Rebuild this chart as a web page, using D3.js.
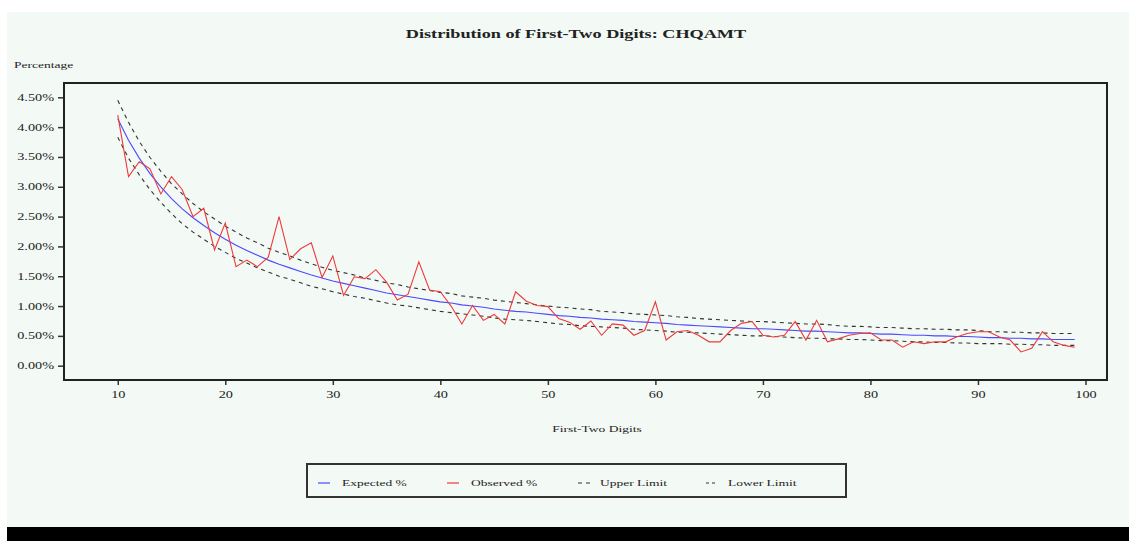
<!DOCTYPE html>
<html>
<head>
<meta charset="utf-8">
<script src="https://cdn.jsdelivr.net/npm/d3@7"></script>
<style>
  body { margin: 0; background: #ffffff; }
  svg { display: block; }
  text { font-family: "Liberation Serif", "DejaVu Serif", serif; fill: #222; }
</style>
</head>
<body>
<script>
// first-two digits 10..99
let digits = d3.range(10, 100)

// expected % (Benford)
let expected = [4.14, 3.78, 3.48, 3.22, 3.00, 2.80, 2.63, 2.48, 2.35, 2.23,
  2.12, 2.02, 1.93, 1.85, 1.77, 1.70, 1.64, 1.58, 1.52, 1.47,
  1.42, 1.38, 1.34, 1.30, 1.26, 1.22, 1.19, 1.16, 1.13, 1.10,
  1.07, 1.05, 1.02, 1.00, 0.98, 0.95, 0.93, 0.91, 0.90, 0.88,
  0.86, 0.84, 0.83, 0.81, 0.80, 0.78, 0.77, 0.76, 0.74, 0.73,
  0.72, 0.71, 0.69, 0.68, 0.67, 0.66, 0.65, 0.64, 0.63, 0.62,
  0.62, 0.61, 0.60, 0.59, 0.58, 0.58, 0.57, 0.56, 0.55, 0.55,
  0.54, 0.53, 0.53, 0.52, 0.51, 0.51, 0.50, 0.50, 0.49, 0.49,
  0.48, 0.47, 0.47, 0.46, 0.46, 0.45, 0.45, 0.44, 0.44, 0.44]

// observed %
let observed = [4.20, 3.17, 3.42, 3.30, 2.88, 3.17, 2.95, 2.50, 2.64, 1.94,
  2.39, 1.66, 1.77, 1.66, 1.82, 2.50, 1.78, 1.96, 2.06, 1.48,
  1.84, 1.18, 1.49, 1.46, 1.61, 1.40, 1.10, 1.20, 1.74, 1.27,
  1.24, 1.00, 0.70, 1.01, 0.76, 0.86, 0.70, 1.24, 1.08, 1.01,
  0.99, 0.79, 0.73, 0.61, 0.75, 0.51, 0.70, 0.68, 0.51, 0.59,
  1.07, 0.43, 0.57, 0.59, 0.51, 0.40, 0.40, 0.59, 0.71, 0.74,
  0.51, 0.48, 0.51, 0.74, 0.43, 0.76, 0.40, 0.45, 0.51, 0.54,
  0.55, 0.43, 0.43, 0.31, 0.40, 0.37, 0.40, 0.40, 0.48, 0.54,
  0.57, 0.57, 0.48, 0.43, 0.23, 0.29, 0.57, 0.40, 0.34, 0.31]

let upper = [4.45, 4.08, 3.76, 3.49, 3.26, 3.05, 2.88, 2.72, 2.58, 2.46,
  2.34, 2.24, 2.14, 2.06, 1.97, 1.90, 1.84, 1.77, 1.71, 1.65,
  1.60, 1.56, 1.52, 1.47, 1.43, 1.39, 1.36, 1.32, 1.29, 1.26,
  1.23, 1.21, 1.17, 1.15, 1.13, 1.10, 1.08, 1.06, 1.04, 1.02,
  1.00, 0.98, 0.97, 0.95, 0.94, 0.91, 0.90, 0.89, 0.87, 0.86,
  0.85, 0.84, 0.82, 0.81, 0.79, 0.78, 0.77, 0.76, 0.75, 0.74,
  0.74, 0.73, 0.72, 0.71, 0.70, 0.70, 0.69, 0.67, 0.66, 0.66,
  0.65, 0.64, 0.64, 0.63, 0.62, 0.62, 0.61, 0.61, 0.60, 0.60,
  0.59, 0.57, 0.57, 0.56, 0.56, 0.55, 0.55, 0.54, 0.54, 0.54]

let lower = [3.83, 3.48, 3.20, 2.95, 2.74, 2.55, 2.38, 2.24, 2.12, 2.00,
  1.90, 1.80, 1.72, 1.64, 1.57, 1.50, 1.45, 1.39, 1.33, 1.29,
  1.24, 1.20, 1.16, 1.13, 1.09, 1.05, 1.02, 1.00, 0.97, 0.94,
  0.91, 0.89, 0.87, 0.85, 0.83, 0.80, 0.78, 0.77, 0.76, 0.74,
  0.72, 0.70, 0.69, 0.67, 0.66, 0.65, 0.64, 0.63, 0.61, 0.60,
  0.59, 0.58, 0.56, 0.56, 0.55, 0.54, 0.53, 0.52, 0.51, 0.50,
  0.50, 0.49, 0.48, 0.47, 0.46, 0.46, 0.45, 0.45, 0.44, 0.44,
  0.43, 0.42, 0.42, 0.41, 0.40, 0.40, 0.39, 0.39, 0.38, 0.38,
  0.37, 0.37, 0.37, 0.36, 0.36, 0.35, 0.35, 0.34, 0.34, 0.34]

let xTicks = [10, 20, 30, 40, 50, 60, 70, 80, 90, 100]
let yTicks = [0, 0.5, 1, 1.5, 2, 2.5, 3, 3.5, 4, 4.5]

let legendNames = ["Expected %", "Observed %", "Upper Limit", "Lower Limit"]

let w = 1129
let h = 541
let bg = "#f3f9f5"

let svg = d3.select("body").append("svg")
  .attr("width", w)
  .attr("height", h)

// background panel (white strip left/top, black bar at the bottom)
svg.append("rect").attr("x", 7).attr("y", 12).attr("width", w - 7).attr("height", 515).attr("fill", bg)
svg.append("rect").attr("x", 7).attr("y", 527).attr("width", w - 7).attr("height", 14).attr("fill", "#000")

let plot = {left: 64, right: 1107, top: 83, bottom: 380}

let x = d3.scaleLinear().domain([5, 102]).range([plot.left, plot.right])
let y = d3.scaleLinear().domain([-0.24, 4.74]).range([plot.bottom, plot.top])

svg.append("text")
  .attr("class", "title")
  .attr("x", 576).attr("y", 38)
  .attr("text-anchor", "middle")
  .style("font-size", "13px").style("font-weight", "bold")
  .text("Distribution of First-Two Digits: CHQAMT")

svg.append("text")
  .attr("x", 14).attr("y", 68)
  .style("font-size", "9px")
  .text("Percentage")

// axes
let yAxis = d3.axisLeft(y).tickValues(yTicks).tickSize(6).tickPadding(4)
  .tickFormat(d => d3.format(".2f")(d) + "%")
let gy = svg.append("g").attr("transform", `translate(${plot.left},0)`).call(yAxis)

let xAxis = d3.axisBottom(x).tickValues(xTicks).tickSize(5).tickPadding(6)
let gx = svg.append("g").attr("transform", `translate(0,${plot.bottom})`).call(xAxis)

;[gx, gy].forEach(g => {
  g.select(".domain").remove()
  g.selectAll("line").attr("stroke", "#333").attr("stroke-width", 1.5)
  g.selectAll("text").style("font-size", "9.5px").attr("fill", "#333")
    .style("font-family", "'Liberation Serif', serif")
})

// frame
svg.append("rect")
  .attr("x", plot.left).attr("y", plot.top)
  .attr("width", plot.right - plot.left).attr("height", plot.bottom - plot.top)
  .attr("fill", "none").attr("stroke", "#222").attr("stroke-width", 2)

svg.append("text")
  .attr("x", 597).attr("y", 432)
  .attr("text-anchor", "middle")
  .style("font-size", "9px")
  .text("First-Two Digits")

// series
let line = d3.line().x((d, i) => x(digits[i])).y(d => y(d))

let series = [
  {vals: upper, color: "#333", dash: "4,4", width: 1.1},
  {vals: lower, color: "#333", dash: "4,4", width: 1.1},
  {vals: expected, color: "#4a4aff", dash: null, width: 1.1},
  {vals: observed, color: "#ee3a3a", dash: null, width: 1.1}
]

svg.selectAll("path.series")
  .data(series).enter().append("path")
    .attr("class", "series")
    .attr("d", d => line(d.vals))
    .attr("fill", "none")
    .attr("stroke", d => d.color)
    .attr("stroke-width", d => d.width)
    .attr("stroke-dasharray", d => d.dash)

// legend
svg.append("rect")
  .attr("x", 307).attr("y", 464).attr("width", 539).attr("height", 33)
  .attr("fill", bg).attr("stroke", "#333").attr("stroke-width", 2)

let legendColors = ["#4a4aff", "#ee3a3a", "#333", "#333"]
let legendDash = [null, null, "4,4", "3,3"]
let legendX = [318, 447, 578, 706]

let lg = svg.selectAll("g.leg")
  .data(legendNames).enter().append("g")
    .attr("class", "leg")
    .attr("transform", (d, i) => `translate(${legendX[i]},483)`)

lg.append("line")
  .attr("x1", 0).attr("x2", 12).attr("y1", 0).attr("y2", 0)
  .attr("stroke", (d, i) => legendColors[i])
  .attr("stroke-width", 1.2)
  .attr("stroke-dasharray", (d, i) => legendDash[i])

lg.append("text")
  .attr("x", (d, i) => i < 2 ? 24 : 22).attr("y", 3)
  .style("font-size", "9px")
  .text(d => d)

// the original type is drawn wide, so stretch every label sideways
svg.selectAll("text").each(function() {
  let k = this.classList.contains("title") ? 1.4 : 1.5
  let len = this.getComputedTextLength()
  d3.select(this).attr("textLength", len * k).attr("lengthAdjust", "spacingAndGlyphs")
})
</script>
</body>
</html>
